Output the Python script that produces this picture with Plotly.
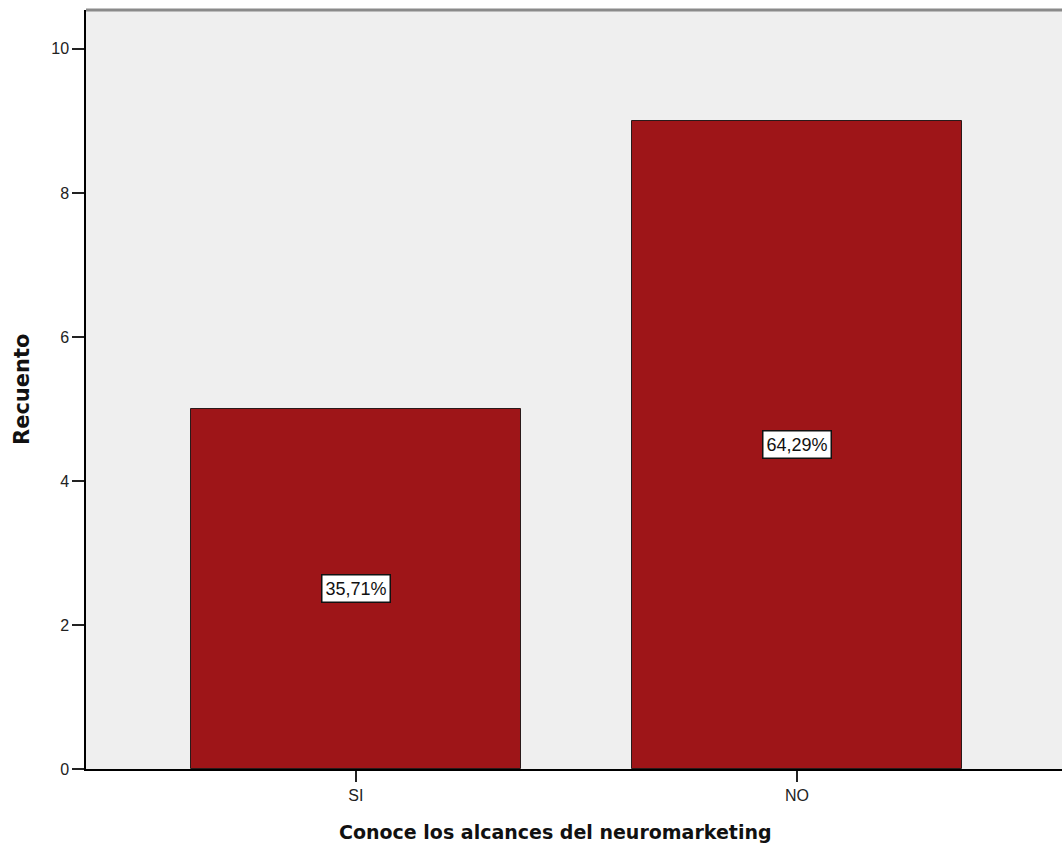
import plotly.graph_objects as go

categories = ["SI", "NO"]
counts = [5, 9]
percent_labels = ["35,71%", "64,29%"]
y_ticks = [0, 2, 4, 6, 8, 10]

W, H = 1062, 850
ml, mr, mt, mb = 86, 0, 10, 81
PW, PH = W - ml - mr, H - mt - mb

fig = go.Figure()
fig.add_trace(go.Bar(
    x=[0, 1], y=counts, width=0.748,
    marker=dict(color="#9E1518", line=dict(color="#2a1a1a", width=1)),
    hoverinfo="skip",
))

for i, (c, lab) in enumerate(zip(counts, percent_labels)):
    fig.add_annotation(
        x=i, y=c / 2, xref="x", yref="y", text=lab, showarrow=False,
        font=dict(family="Liberation Sans, Arial", size=18, color="#111"),
        bgcolor="white", bordercolor="#111", borderwidth=1.5, borderpad=3,
    )

# x-axis title
fig.add_annotation(
    x=(555 - ml) / PW, y=-(832 - (H - mb)) / PH,
    xref="paper", yref="paper", showarrow=False,
    text="<b>Conoce los alcances del neuromarketing</b>",
    font=dict(family="DejaVu Sans", size=19, color="#111"),
    xanchor="center", yanchor="middle",
)

# y-axis title
fig.add_annotation(
    x=(22 - ml) / PW, y=((H - mb) - 390) / PH,
    xref="paper", yref="paper", showarrow=False, textangle=-90,
    text="<b>Recuento</b>",
    font=dict(family="DejaVu Sans", size=21, color="#111"),
    xanchor="center", yanchor="middle",
)

# top border line
fig.add_shape(type="line", xref="paper", yref="paper", x0=0, x1=1, y0=1, y1=1,
              line=dict(color="#8a8a8a", width=3))

fig.update_layout(
    width=W, height=H, margin=dict(l=ml, r=mr, t=mt, b=mb),
    paper_bgcolor="white", plot_bgcolor="#EFEFEF",
    showlegend=False,
    bargap=0,
    xaxis=dict(
        range=[-0.612, 1.601], tickvals=[0, 1], ticktext=categories,
        showline=True, linecolor="black", linewidth=1.5,
        ticks="outside", ticklen=11, tickcolor="#222", tickwidth=1.5,
        showgrid=False, zeroline=False,
        tickfont=dict(family="Liberation Sans, Arial", size=16, color="#222"),
    ),
    yaxis=dict(
        range=[0, 10.54], tickvals=y_ticks, ticktext=[str(v) for v in y_ticks],
        showline=True, linecolor="black", linewidth=1.5,
        ticks="outside", ticklen=12, tickcolor="#222", tickwidth=1.5,
        showgrid=False, zeroline=False,
        tickfont=dict(family="Liberation Sans, Arial", size=16, color="#222"),
    ),
)

fig.write_html("out.html")
